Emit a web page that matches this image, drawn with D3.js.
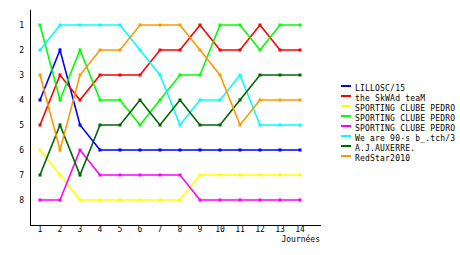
<!DOCTYPE html>
<html>
<head>
<meta charset="utf-8">
<script src="https://cdn.jsdelivr.net/npm/d3@7"></script>
<style>
  body { margin: 0; background: #fff; }
  svg { display: block; }
  text { font-family: "DejaVu Sans Mono", monospace; font-size: 8px; fill: #000; }
</style>
</head>
<body>
<svg id="chart" width="460" height="255"></svg>
<script>
// rounds and team names
const rounds = [1, 2, 3, 4, 5, 6, 7, 8, 9, 10, 11, 12, 13, 14];
const teams = [
    "LILLOSC/15",
    "the SkWAd teaM",
    "SPORTING CLUBE PEDRO",
    "SPORTING CLUBE PEDRO",
    "SPORTING CLUBE PEDRO",
    "We are 90-s b_.tch/3",
    "A.J.AUXERRE.",
    "RedStar2010"
];
const colors = ["#0000ff", "#ff0000", "#ffff00", "#00ff00", "#ff00ff", "#00ffff", "#006600", "#ff9900"];

// ranking per round, one array per team
const lillosc  = [4, 2, 5, 6, 6, 6, 6, 6, 6, 6, 6, 6, 6, 6];
const skwad    = [5, 3, 4, 3, 3, 3, 2, 2, 1, 2, 2, 1, 2, 2];
const pedroA   = [6, 7, 8, 8, 8, 8, 8, 8, 7, 7, 7, 7, 7, 7];
const pedroB   = [1, 4, 2, 4, 4, 5, 4, 3, 3, 1, 1, 2, 1, 1];
const pedroC   = [8, 8, 6, 7, 7, 7, 7, 7, 8, 8, 8, 8, 8, 8];
const ninety   = [2, 1, 1, 1, 1, 2, 3, 5, 4, 4, 3, 5, 5, 5];
const auxerre  = [7, 5, 7, 5, 5, 4, 5, 4, 5, 5, 4, 3, 3, 3];
const redstar  = [3, 6, 3, 2, 2, 1, 1, 1, 2, 3, 5, 4, 4, 4];

const ranks = [lillosc, skwad, pedroA, pedroB, pedroC, ninety, auxerre, redstar];
const rankTicks = [1, 2, 3, 4, 5, 6, 7, 8];

const svg = d3.select("#chart");

const x = d3.scaleLinear().domain([0, 15]).range([20, 320]);
const y = d3.scaleLinear().domain([0, 9]).range([0, 225]);

// axes lines
svg.append("line")
    .attr("x1", 30.5).attr("x2", 30.5)
    .attr("y1", 10).attr("y2", 225)
    .attr("stroke", "#000");
svg.append("line")
    .attr("x1", 30).attr("x2", 321)
    .attr("y1", 225.5).attr("y2", 225.5)
    .attr("stroke", "#000");

svg.append("g").selectAll("text")
    .data(rankTicks)
    .join("text")
    .attr("x", 24)
    .attr("y", d => y(d) + 3)
    .attr("text-anchor", "end")
    .text(d => d);

svg.append("g").selectAll("text")
    .data(rounds)
    .join("text")
    .attr("x", d => x(d))
    .attr("y", 232)
    .attr("text-anchor", "middle")
    .text(d => d);

svg.append("text")
    .attr("x", 320)
    .attr("y", 242)
    .attr("text-anchor", "end")
    .text("Journées");

// lines
const line = d3.line()
    .x((d, i) => x(rounds[i]))
    .y(d => y(d));

ranks.forEach((r, k) => {
    const g = svg.append("g");
    g.append("path")
        .attr("d", line(r))
        .attr("fill", "none")
        .attr("stroke", colors[k])
        .attr("stroke-width", 1.6);
    g.selectAll("rect")
        .data(r)
        .join("rect")
        .attr("x", (d, i) => x(rounds[i]) - 1.5)
        .attr("y", d => y(d) - 1.5)
        .attr("width", 3)
        .attr("height", 3)
        .attr("fill", colors[k]);
});

// legend
const legend = svg.append("g");
teams.forEach((t, k) => {
    legend.append("rect")
        .attr("x", 341)
        .attr("y", 85 + k * 10)
        .attr("width", 10)
        .attr("height", 2)
        .attr("fill", colors[k]);
    legend.append("text")
        .attr("x", 355)
        .attr("y", 91 + k * 10)
        .attr("letter-spacing", 0.2)
        .text(t);
});
</script>
</body>
</html>
